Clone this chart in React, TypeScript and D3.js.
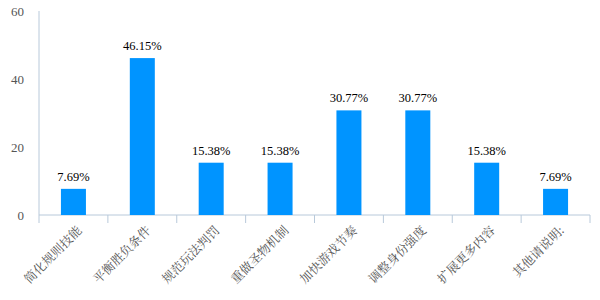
import React from "react";
import * as d3 from "d3";

const categories = ["简化规则技能", "平衡胜负条件", "规范玩法判罚", "重做圣物机制", "加快游戏节奏", "调整身份强度", "扩展更多内容", "其他请说明:"];
const values = [7.69, 46.15, 15.38, 15.38, 30.77, 30.77, 15.38, 7.69];
const yTicks = [0, 20, 40, 60];

export default function App() {
  const W = 600, H = 300;
  const left = 39, right = 590, top = 11, bottom = 215;
  const x = d3.scaleBand<string>().domain(categories).range([left, right]).paddingInner(0).paddingOuter(0);
  const y = d3.scaleLinear().domain([0, 60]).range([bottom, top]);
  const barW = 25;
  const serif = "Liberation Serif, Times New Roman, serif";
  const cjk = "Liberation Serif, Noto Serif CJK SC, Noto Sans CJK SC, serif";
  const axisColor = "#b8c9da";
  return (
    <svg width={W} height={H} style={{ position: "absolute", left: 0, top: 0, background: "#fff" }}>
      <line x1={left} x2={left} y1={top} y2={bottom} stroke={axisColor} strokeWidth={1} />
      <line x1={left} x2={right} y1={bottom} y2={bottom} stroke={axisColor} strokeWidth={1} />
      {categories.map((c, i) => (
        <line key={"t" + i} x1={x(c)!} x2={x(c)!} y1={bottom} y2={bottom + 8} stroke={axisColor} />
      ))}
      <line x1={right} x2={right} y1={bottom} y2={bottom + 8} stroke={axisColor} />
      {yTicks.map((t) => (
        <text key={"y" + t} x={left - 15} y={y(t)} dy="0.35em" textAnchor="end" style={{ fontFamily: serif, fontSize: 13 }} fill="#555">{t}</text>
      ))}
      {categories.map((c, i) => {
        const cx = x(c)! + x.bandwidth() / 2;
        return (
          <g key={c}>
            <rect x={cx - barW / 2} y={y(values[i])} width={barW} height={bottom - y(values[i])} fill="#0094ff" />
            <text x={cx} y={y(values[i]) - 8} textAnchor="middle" style={{ fontFamily: serif, fontSize: 12.5 }} fill="#000">{values[i].toFixed(2)}%</text>
            <text transform={`translate(${cx + 3},${bottom + 10}) rotate(-45)`} textAnchor="end" dy="0.7em" style={{ fontFamily: cjk, fontSize: 12.5 }} fill="#555">{c}</text>
          </g>
        );
      })}
    </svg>
  );
}
